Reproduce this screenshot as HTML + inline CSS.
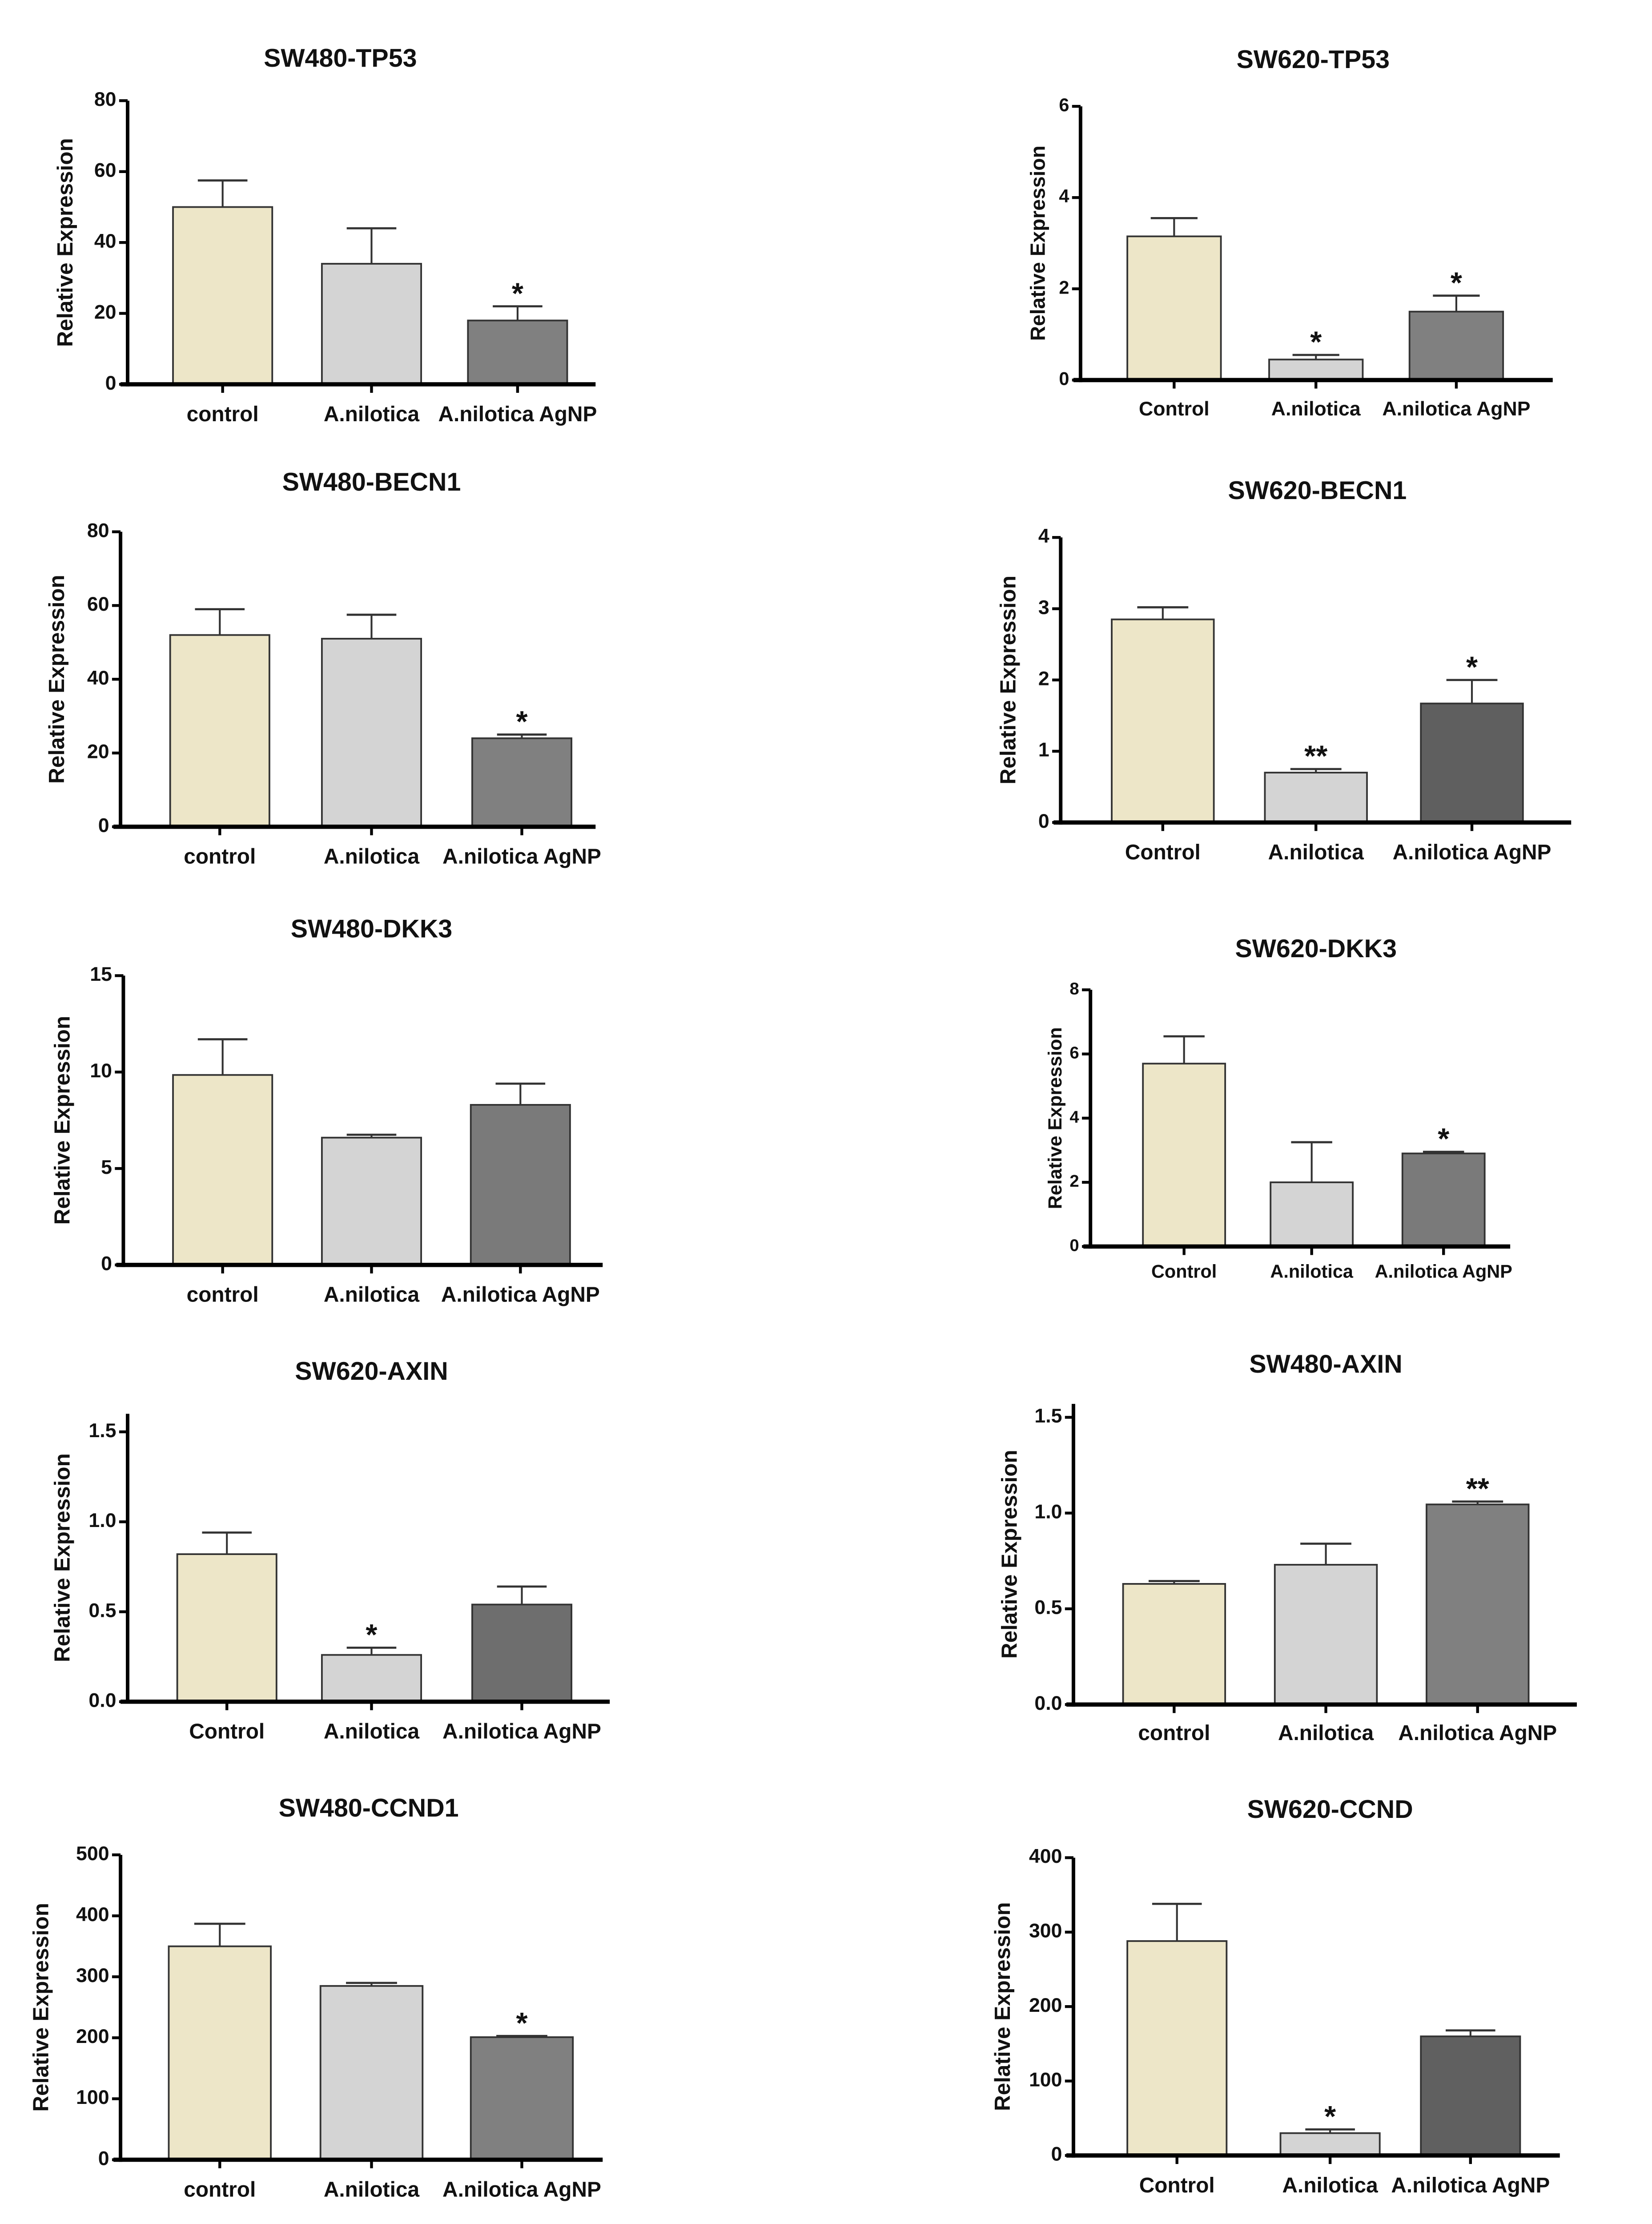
<!DOCTYPE html>
<html><head><meta charset="utf-8"><style>
html,body{margin:0;padding:0;background:#fff;overflow:hidden;width:3715px;height:5101px}
svg{display:block}
text{font-family:"Liberation Sans",sans-serif;font-weight:bold;fill:#111}
</style></head><body>
<svg id="fig" width="3715" height="5101" viewBox="0 0 1165 1600" preserveAspectRatio="none" xmlns="http://www.w3.org/2000/svg"></svg>
<script>
// ---- data ----
const panelTitles = ["SW480-TP53","SW620-TP53","SW480-BECN1","SW620-BECN1","SW480-DKK3","SW620-DKK3","SW620-AXIN","SW480-AXIN","SW480-CCND1","SW620-CCND"];
const categoryLabels = [
  ["control","A.nilotica","A.nilotica AgNP"],["Control","A.nilotica","A.nilotica AgNP"],
  ["control","A.nilotica","A.nilotica AgNP"],["Control","A.nilotica","A.nilotica AgNP"],
  ["control","A.nilotica","A.nilotica AgNP"],["Control","A.nilotica","A.nilotica AgNP"],
  ["Control","A.nilotica","A.nilotica AgNP"],["control","A.nilotica","A.nilotica AgNP"],
  ["control","A.nilotica","A.nilotica AgNP"],["Control","A.nilotica","A.nilotica AgNP"]];
const meanValues = [[50,34,18],[3.15,0.45,1.5],[52,51,24],[2.85,0.7,1.67],[9.85,6.6,8.3],[5.7,2.0,2.9],[0.82,0.26,0.54],[0.63,0.73,1.045],[350,285,201],[288,30,160]];
const errorTops = [[57.5,44,22],[3.55,0.55,1.85],[59,57.5,25],[3.02,0.75,2.0],[11.7,6.75,9.4],[6.55,3.25,2.95],[0.94,0.30,0.64],[0.645,0.84,1.06],[387,290,203],[338,35,168]];
const starMarks = [["","","*"],["","*","*"],["","","*"],["","**","*"],["","",""],["","","*"],["","*",""],["","","**"],["","","*"],["","*",""]];
const tickValues = [[0,20,40,60,80],[0,2,4,6],[0,20,40,60,80],[0,1,2,3,4],[0,5,10,15],[0,2,4,6,8],[0,0.5,1.0,1.5],[0,0.5,1.0,1.5],[0,100,200,300,400,500],[0,100,200,300,400]];
const tickLabels = [["0","20","40","60","80"],["0","2","4","6"],["0","20","40","60","80"],["0","1","2","3","4"],["0","5","10","15"],["0","2","4","6","8"],["0.0","0.5","1.0","1.5"],["0.0","0.5","1.0","1.5"],["0","100","200","300","400","500"],["0","100","200","300","400"]];
const axisMax = [80,6,80,4,15,8,1.6,1.57,500,400];
// ---- layout (not data) ----
const layout = [
 {ax:90,top:71,bot:271,end:420,cx:[157,262,365],bw:70,tx:240,ty:47,ly:297,yl:47,fs:14,third:"#808080"},
 {ax:762,top:75,bot:268,end:1095,cx:[828,928,1027],bw:66,tx:926,ty:48,ly:293,yl:733,fs:13,third:"#808080"},
 {ax:85,top:375,bot:583,end:420,cx:[155,262,368],bw:70,tx:262,ty:346,ly:609,yl:41,fs:14,third:"#808080"},
 {ax:748,top:379,bot:580,end:1108,cx:[820,928,1038],bw:72,tx:929,ty:352,ly:606,yl:712,fs:14,third:"#5f5f5f"},
 {ax:87,top:688,bot:892,end:425,cx:[157,262,367],bw:70,tx:262,ty:661,ly:918,yl:45,fs:14,third:"#7a7a7a"},
 {ax:769,top:698,bot:879,end:1065,cx:[835,925,1018],bw:58,tx:928,ty:675,ly:901,yl:745,fs:12,third:"#7a7a7a"},
 {ax:90,top:997,bot:1200,end:430,cx:[160,262,368],bw:70,tx:262,ty:973,ly:1226,yl:45,fs:14,third:"#6e6e6e"},
 {ax:757,top:990,bot:1202,end:1112,cx:[828,935,1042],bw:72,tx:935,ty:968,ly:1227,yl:713,fs:14,third:"#808080"},
 {ax:85,top:1308,bot:1523,end:425,cx:[155,262,368],bw:72,tx:260,ty:1281,ly:1549,yl:30,fs:14,third:"#808080"},
 {ax:757,top:1310,bot:1520,end:1100,cx:[830,938,1037],bw:70,tx:938,ty:1282,ly:1546,yl:708,fs:14,third:"#606060"}
];
const NS="http://www.w3.org/2000/svg";
const svg=document.getElementById('fig');
function mk(tag,attrs,parent,txt){const e=document.createElementNS(NS,tag);for(const k in attrs)e.setAttribute(k,attrs[k]);if(txt!==undefined)e.textContent=txt;parent.appendChild(e);return e;}
const keys=["control","anilotica","agnp"];
panelTitles.forEach((title,p)=>{
  const L=layout[p];
  const y=v=>L.bot-(v/axisMax[p])*(L.bot-L.top);
  const g=mk('g',{},svg);
  
  
  const t=mk('text',{x:L.tx,y:L.ty,'text-anchor':'middle','font-size':18},g,title);
  
  
  const yl=mk('text',{x:L.yl,y:(L.top+L.bot)/2,'text-anchor':'middle','font-size':L.fs+1.5,transform:`rotate(-90 ${L.yl} ${(L.top+L.bot)/2})`,'dominant-baseline':'middle'},g,'Relative Expression');
  
  
  const fills=["#ede6c8","#d4d4d4",L.third];
  meanValues[p].forEach((v,i)=>{
    const cx=L.cx[i];
    const et=y(errorTops[p][i]);
    const eb=mk('line',{x1:cx,x2:cx,y1:et,y2:y(v),stroke:'#333','stroke-width':1.3},g);
    
    
    const cap=mk('line',{x1:cx-L.bw/4,x2:cx+L.bw/4,y1:et,y2:et,stroke:'#333','stroke-width':1.5},g);
    
    
    const r=mk('rect',{x:cx-L.bw/2,y:y(v),width:L.bw,height:L.bot-y(v),fill:fills[i],stroke:'#333','stroke-width':1.2},g);
    
    
    if(starMarks[p][i]){
      const s=mk('text',{x:cx,y:et-2,'text-anchor':'middle','font-size':21},g,starMarks[p][i]);
      
      
    }
    const tk=mk('line',{x1:cx,x2:cx,y1:L.bot,y2:L.bot+6,stroke:'#000','stroke-width':2},g);
    
    
    const cl=mk('text',{x:cx,y:L.ly,'text-anchor':'middle','font-size':L.fs+1},g,categoryLabels[p][i]);
    
    
  });
  const ya=mk('line',{x1:L.ax,x2:L.ax,y1:L.top,y2:L.bot+1.5,stroke:'#000','stroke-width':2.5},g);
  
  
  const xa=mk('line',{x1:L.ax-5,x2:L.end,y1:L.bot,y2:L.bot,stroke:'#000','stroke-width':3},g);
  
  
  tickValues[p].forEach((tv,k)=>{
    const yy=y(tv);
    const tl=mk('line',{x1:L.ax-6,x2:L.ax,y1:yy,y2:yy,stroke:'#000','stroke-width':2},g);
    
    
    const tt=mk('text',{x:L.ax-8,y:yy,'text-anchor':'end','dominant-baseline':'middle','font-size':L.fs},g,tickLabels[p][k]);
    
    
  });
});
</script>
</body></html>
